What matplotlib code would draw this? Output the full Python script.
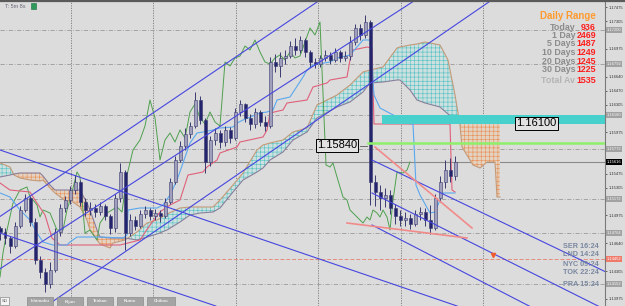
"""
Gráfico MT4 EURUSD M5 — velas + Ichimoku + canales + panel Daily Range.
"""

import numpy as np
import matplotlib
matplotlib.use("Agg")
import matplotlib.pyplot as plt
from matplotlib.patches import Rectangle
from matplotlib.lines import Line2D

plt.rcParams['font.family'] = ['Liberation Sans', 'DejaVu Sans']
plt.rcParams['hatch.linewidth'] = 0.45

# ─── Velas (cada vela = 1 unidad de tiempo) ──────────────────────────────────
open_first = 1.14824
close = [1.14776, 1.14704, 1.14608, 1.14848, 1.15040, 1.15184, 1.14896, 1.14440, 1.14296, 1.14152,
         1.14320, 1.14776, 1.15064, 1.15160, 1.15280, 1.15376, 1.15136, 1.15040, 1.15064, 1.15016,
         1.15088, 1.14968, 1.14824, 1.15184, 1.15496, 1.14764, 1.14920, 1.14848, 1.14992, 1.15040,
         1.14968, 1.15004, 1.14968, 1.15136, 1.15376, 1.15640, 1.15808, 1.15952, 1.16048, 1.16360,
         1.16120, 1.15616, 1.15880, 1.15964, 1.15856, 1.16000, 1.15904, 1.16216, 1.16312, 1.16144,
         1.16072, 1.16216, 1.16096, 1.16048, 1.16816, 1.16768, 1.16864, 1.16888, 1.17008, 1.16960,
         1.17080, 1.16936, 1.16816, 1.16792, 1.16864, 1.16900, 1.16840, 1.16936, 1.16864, 1.16888,
         1.17056, 1.17224, 1.17140, 1.17296, 1.15376, 1.15256, 1.15184, 1.15220, 1.15064, 1.14968,
         1.14920, 1.14944, 1.14872, 1.14992, 1.15016, 1.14920, 1.14824, 1.15184, 1.15376, 1.15520,
         1.15448, 1.15616]
high = [1.14848, 1.14824, 1.14728, 1.14896, 1.15088, 1.15232, 1.15208, 1.14944, 1.14488, 1.14344,
        1.14416, 1.14824, 1.15112, 1.15208, 1.15328, 1.15460, 1.15400, 1.15184, 1.15136, 1.15112,
        1.15136, 1.15112, 1.14992, 1.15232, 1.15604, 1.15520, 1.14992, 1.14968, 1.15040, 1.15088,
        1.15064, 1.15052, 1.15040, 1.15184, 1.15424, 1.15688, 1.15868, 1.16024, 1.16096, 1.16456,
        1.16408, 1.16144, 1.15928, 1.16024, 1.16000, 1.16048, 1.16036, 1.16264, 1.16360, 1.16324,
        1.16192, 1.16264, 1.16240, 1.16168, 1.16876, 1.16912, 1.16936, 1.16960, 1.17068, 1.17104,
        1.17128, 1.17104, 1.16960, 1.16864, 1.16900, 1.16960, 1.16936, 1.16984, 1.16960, 1.16948,
        1.17128, 1.17272, 1.17272, 1.17380, 1.17320, 1.15460, 1.15340, 1.15304, 1.15280, 1.15112,
        1.15040, 1.15016, 1.14992, 1.15040, 1.15076, 1.15064, 1.15100, 1.15232, 1.15448, 1.15640,
        1.15664, 1.15688]
low = [1.14680, 1.14632, 1.14524, 1.14584, 1.14824, 1.15016, 1.14848, 1.14392, 1.14224, 1.14056,
       1.14104, 1.14296, 1.14728, 1.15016, 1.15112, 1.15232, 1.15088, 1.14968, 1.14980, 1.14956,
       1.14980, 1.14920, 1.14752, 1.14776, 1.15136, 1.14560, 1.14728, 1.14800, 1.14824, 1.14944,
       1.14920, 1.14920, 1.14896, 1.14944, 1.15112, 1.15352, 1.15616, 1.15760, 1.15904, 1.16024,
       1.16072, 1.15484, 1.15568, 1.15820, 1.15784, 1.15808, 1.15844, 1.15880, 1.16168, 1.16096,
       1.16000, 1.16024, 1.16048, 1.15988, 1.16024, 1.16696, 1.16636, 1.16792, 1.16864, 1.16900,
       1.16924, 1.16876, 1.16756, 1.16744, 1.16756, 1.16828, 1.16792, 1.16816, 1.16816, 1.16828,
       1.16840, 1.17020, 1.17080, 1.17104, 1.15100, 1.15088, 1.15040, 1.15076, 1.14992, 1.14872,
       1.14848, 1.14848, 1.14812, 1.14848, 1.14920, 1.14848, 1.14752, 1.14800, 1.15136, 1.15304,
       1.15376, 1.15400]

# ─── Ichimoku ────────────────────────────────────────────────────────────────
tenkan_t = [0, 2, 4, 6, 7.4, 8.6, 10.6, 13.4, 14, 15.4, 20, 24.6, 25.4, 25.6, 28, 31.4, 32.6, 34,
            35.4, 36.6, 38, 39.4, 40.6, 42.6, 44, 46.6, 47.4, 48.6, 52, 53.4, 54.6, 55.4, 58, 60.6,
            61.4, 62.6, 66, 67.4, 70, 71.4, 72.6, 74, 74.8, 76, 79.4, 80.6, 82.6, 83.2, 84, 86, 87,
            88, 88.6, 91]
tenkan_p = [1.15244, 1.15196, 1.15040, 1.14920, 1.14764, 1.14656, 1.14620, 1.14620, 1.14656, 1.14716,
            1.14716, 1.14704, 1.14740, 1.15040, 1.15064, 1.15064, 1.15100, 1.15220, 1.15400, 1.15604,
            1.15844, 1.15964, 1.15976, 1.16000, 1.16024, 1.16036, 1.16084, 1.16120, 1.16204, 1.16216,
            1.16240, 1.16360, 1.16396, 1.16636, 1.16720, 1.16780, 1.16816, 1.16864, 1.16900, 1.16996,
            1.17080, 1.17080, 1.16420, 1.16264, 1.16156, 1.16084, 1.16072, 1.15340, 1.15220, 1.15004,
            1.15016, 1.15160, 1.15244, 1.15244]

kijun_t = [0, 2, 6, 7, 9, 10.4, 12, 24, 28, 30, 32, 34, 36, 37.6, 40.6, 41.4, 43.4, 44, 47.4, 48,
           52.6, 53.4, 54, 56.6, 57.4, 61.4, 62.6, 65.4, 66, 69.4, 70, 70.6, 73.4, 74.4, 74.8, 90,
           90.4, 91]
kijun_p = [1.15364, 1.15280, 1.15256, 1.15160, 1.14980, 1.14704, 1.14620, 1.14620, 1.14680, 1.14860,
           1.15016, 1.15100, 1.15160, 1.15460, 1.15496, 1.15556, 1.15640, 1.15724, 1.15796, 1.15856,
           1.15916, 1.16000, 1.16204, 1.16240, 1.16324, 1.16360, 1.16516, 1.16564, 1.16600, 1.16636,
           1.16840, 1.16960, 1.16996, 1.16984, 1.16072, 1.16072, 1.15280, 1.15256]

chikou_t = [0, 0.6, 1.4, 2.6, 4, 5.4, 6, 6.6, 7.4, 8, 8.6, 10, 11.4, 12.6, 13.4, 14, 15.4, 16, 17, 18,
            19.4, 20, 21.4, 23.4, 24.4, 25.4, 26.6, 28, 29, 30, 31, 32, 33, 34, 35, 36, 37, 38, 39, 40,
            41, 42, 43, 44, 45, 46, 47, 48, 49, 50, 51, 52, 53, 54, 55, 56, 57, 58, 59, 60,
            61, 62, 63, 64, 65.2, 66, 66.6, 67.4, 68, 68.6, 69.4, 70, 71.4, 72.6, 73.4, 74, 74.6, 75.4,
            76, 76.6, 77.4, 78, 78.6, 79.4, 80.6, 81.4, 82]
chikou_p = [1.14236, 1.14524, 1.14800, 1.15124, 1.15280, 1.15316, 1.15196, 1.15160, 1.15100, 1.14956,
            1.15040, 1.15004, 1.14800, 1.14800, 1.15040, 1.15160, 1.15496, 1.15436, 1.14764, 1.14800,
            1.14680, 1.14884, 1.15004, 1.15076, 1.15016, 1.15460, 1.15760, 1.15880, 1.16048, 1.16360,
            1.16144, 1.15640, 1.15880, 1.15964, 1.15856, 1.16000, 1.15904, 1.16216, 1.16312, 1.16144,
            1.16072, 1.16216, 1.16096, 1.16048, 1.16816, 1.16768, 1.16864, 1.16888, 1.17008, 1.16960,
            1.17080, 1.16936, 1.16816, 1.16792, 1.16864, 1.16900, 1.16840, 1.16936, 1.16864, 1.16888,
            1.17056, 1.17224, 1.17140, 1.17296, 1.15580, 1.15556, 1.15604, 1.15436, 1.15316, 1.15196,
            1.15160, 1.15040, 1.14956, 1.14884, 1.14956, 1.14920, 1.15040, 1.15004, 1.14956, 1.15040,
            1.14956, 1.14800, 1.15160, 1.15496, 1.15484, 1.15520, 1.15616]

kumo_t = [0, 2, 2.8, 4, 6, 8, 8.6, 10, 11, 13.4, 14, 16, 17.4, 18, 19.4, 20, 22, 22.6, 25, 27.4,
          29.4, 31.4, 33.4, 36, 38, 40, 42.6, 44, 46.6, 48.6, 51.4, 52.6, 54, 56.6, 58.6, 61.4, 63.4,
          67.4, 70, 72.6, 74, 76.6, 79.4, 80, 82, 83.4, 85, 88, 89.6, 90.4, 91, 92, 92.4, 94.6, 96,
          97.4, 99, 99.4, 100]
span_a = [1.15604, 1.15556, 1.15460, 1.15424, 1.15400, 1.15388, 1.15400, 1.15304, 1.15244, 1.15136,
          1.15160, 1.15076, 1.14920, 1.14800, 1.14680, 1.14632, 1.14584, 1.14644, 1.14680, 1.14776,
          1.14884, 1.14920, 1.14992, 1.15064, 1.15076, 1.15076, 1.15076, 1.15160, 1.15340, 1.15484,
          1.15760, 1.15820, 1.15844, 1.15880, 1.15976, 1.16024, 1.16300, 1.16420, 1.16540, 1.16696,
          1.16720, 1.16756, 1.16984, 1.16996, 1.17020, 1.17032, 1.17056, 1.17020, 1.16840, 1.16600,
          1.16420, 1.16060, 1.15796, 1.15580, 1.15544, 1.15616, 1.15616, 1.15196, 1.15196]
span_b = [1.15436, 1.15460, 1.15472, 1.15484, 1.15484, 1.15484, 1.15448, 1.15340, 1.15280, 1.15280,
          1.15280, 1.15280, 1.15124, 1.15040, 1.14800, 1.14716, 1.14704, 1.14704, 1.14704, 1.14680,
          1.14716, 1.14752, 1.14800, 1.14896, 1.14980, 1.15004, 1.15016, 1.15064, 1.15256, 1.15400,
          1.15496, 1.15544, 1.15640, 1.15736, 1.15880, 1.15976, 1.16144, 1.16276, 1.16336, 1.16456,
          1.16564, 1.16576, 1.16600, 1.16600, 1.16480, 1.16360, 1.16324, 1.16276, 1.16192, 1.16156,
          1.16132, 1.16084, 1.16084, 1.16084, 1.16084, 1.16084, 1.16084, 1.16084, 1.16084]

# ─── Líneas dibujadas a mano (anclas tiempo, precio) ─────────────────────────
up_channel = [((30, 1.16180), (64, 1.17560)),
              ((46, 1.16120), (80, 1.17440)),
              ((63.4, 1.16120), (80, 1.16804))]
down_left = [((0, 1.15760), (58.6, 1.14560)),
             ((0, 1.14764), (26.6, 1.14224))]
down_right = [((74.4, 1.15640), (112, 1.14560)),
              ((74.4, 1.15244), (112, 1.14116)),
              ((74.4, 1.14860), (100, 1.14068))]
pink_lines = [((75, 1.15796), (94.4, 1.14824)),
              ((69.4, 1.14884), (93.4, 1.14704))]

# ─── Niveles ─────────────────────────────────────────────────────────────────
grid_levels = [1.17200, 1.16792, 1.16180, 1.15772, 1.15172, 1.14764, 1.14152]
red_level = 1.14452
bid = 1.15616
green_level = 1.15840
green_start = 73.6
zone_lo, zone_hi, zone_start = 1.16072, 1.16180, 76.4
zone_label = 1.16100
separators = [14.2, 30.6, 47.2, 63.6, 80.2, 96.6]
price_ticks = [1.17475, 1.17305, 1.17140, 1.16975, 1.16805, 1.16640, 1.16470, 1.16305, 1.16140,
               1.15975, 1.15805, 1.15640, 1.15475, 1.15305, 1.15140, 1.14975, 1.14805, 1.14640,
               1.14470, 1.14305, 1.14140, 1.13975]

# ─── Paneles de texto ────────────────────────────────────────────────────────
range_labels = ['Today', '1 Day', '5 Days', '10 Days', '20 Days', '30 Days', 'Total Av']
range_values = [936, 2469, 1487, 1249, 1245, 1225, 1535]
sessions = ['SER 16:24', 'LND 14:24', 'NYC 09:24', 'TOK 22:24', 'PRA 15:24']
tabs = ['Ichimoku', 'Kijun', 'Tenkan', 'Kumo', 'Chikou']

W, H = 625, 306
BG = '#dcdcdc'
XMAX = 121
AXFS = 3.0


def fx(px):
    return px / W


def fy(py):
    return 1 - py / H


def ray(p1, p2, x_end=XMAX + 2):
    (x1, y1), (x2, y2) = p1, p2
    k = (y2 - y1) / (x2 - x1)
    return [x1, x_end], [y1, y1 + k * (x_end - x1)]


fig = plt.figure(figsize=(W / 100, H / 100), dpi=100)
fig.patch.set_facecolor(BG)
ax = fig.add_axes([0, 0, fx(605), 1 - 2 / H])
ax.set_facecolor(BG)
ax.set_xlim(0, XMAX)
ax.set_ylim(1.13888, 1.17536)

# rejilla / niveles
for s in separators:
    ax.axvline(s, color='#777777', lw=0.6, ls=(0, (1.5, 1.5)), zorder=1)
for lv in grid_levels:
    ax.axhline(lv, color='#9a9a9a', lw=0.6, ls=(0, (5, 2, 1, 2)), zorder=1)
ax.axhline(red_level, color='#e58a7a', lw=0.7, ls=(0, (4, 2)), zorder=1)
ax.axhline(bid, color='#8a8a8a', lw=0.8, zorder=1)

# kumo
t_k = np.array(kumo_t)
a = np.array(span_a)
b = np.array(span_b)
ax.fill_between(t_k, a, b, where=a >= b, interpolate=True, facecolor='#cfe0e0',
                edgecolor='#5cc4c4', hatch='++++', lw=0, zorder=2)
ax.fill_between(t_k, a, b, where=a < b, interpolate=True, facecolor='#e4d2c2',
                edgecolor='#e8945a', hatch='++++', lw=0, zorder=2)
ax.plot(t_k, a, color='#c49a78', lw=0.8, zorder=3)
ax.plot(t_k, b, color='#8a7f9c', lw=0.8, zorder=3)

ax.plot(chikou_t, chikou_p, color='#4ea04e', lw=0.7, zorder=3)
ax.plot(kijun_t, kijun_p, color='#e0607a', lw=0.8, zorder=3)
ax.plot(tenkan_t, tenkan_p, color='#5aa8ee', lw=0.8, zorder=3)

# velas
opens = [open_first] + close[:-1]
for i, (o, c, h, l) in enumerate(zip(opens, close, high, low)):
    bull = c >= o
    ax.vlines(i, l, h, color='#3a3a70', lw=0.7, zorder=4)
    ax.add_patch(Rectangle((i - 0.3, min(o, c)), 0.6, max(abs(c - o), 0.00003),
                           facecolor='#a0a0bc' if bull else '#24246e',
                           edgecolor='#3a3a70', lw=0.4, zorder=4))

# zona cian y nivel verde
ax.add_patch(Rectangle((zone_start, zone_lo), XMAX - zone_start, zone_hi - zone_lo,
                       facecolor='#48d0cc', edgecolor='none', zorder=4.5))
ax.plot([green_start, XMAX], [green_level] * 2, color='#8ef06a', lw=1.8, zorder=4.5)

# líneas de tendencia
for p1, p2 in up_channel + down_left:
    ax.axline(p1, p2, color='#4646e0', lw=0.8, zorder=5)
for p1, p2 in down_right:
    xs, ys = ray(p1, p2)
    ax.plot(xs, ys, color='#4646e0', lw=0.8, zorder=5)
for p1, p2 in pink_lines:
    ax.plot([p1[0], p2[0]], [p1[1], p2[1]], color='#f28a8a', lw=1.2, zorder=5)

ax.plot(98.6, 1.14500, marker='v', ms=3, color='#f05a30', zorder=6)

# etiquetas de precio en el gráfico
ax.text(103.2, 1.16078, f'{zone_label:.5f}', fontsize=8, color='black', va='center', ha='left',
        zorder=7, bbox=dict(boxstyle='square,pad=0.12', fc='#e2e2e2', ec='black', lw=0.7))
ax.text(63.4, 1.15814, f'{green_level:.5f}', fontsize=8, color='black', va='center', ha='left',
        zorder=7, bbox=dict(boxstyle='square,pad=0.12', fc='#e2e2e2', ec='black', lw=0.7))
ax.plot([72.0, 73.4], [1.15814] * 2, color='#555555', lw=0.6, zorder=7)

# eje de precios (se ocultan los ticks tapados por etiquetas resaltadas)
marked = grid_levels + [bid, red_level]
shown = [p for p in price_ticks if min(abs(p - m) for m in marked) > 0.0007]
for side in ['top', 'left', 'bottom']:
    ax.spines[side].set_visible(False)
ax.spines['right'].set_color('#7a7a7a')
ax.spines['right'].set_linewidth(0.8)
ax.set_xticks([])
ax.yaxis.tick_right()
ax.set_yticks(shown)
ax.set_yticklabels([f'{p:.5f}' for p in shown])
ax.tick_params(axis='y', labelsize=AXFS, length=1.5, width=0.5, pad=1.0,
               colors='#333333')

ytr = ax.get_yaxis_transform()
for lv in grid_levels:
    ax.text(1.003, lv, f'{lv:.5f}', transform=ytr, fontsize=AXFS, color='#f4f4f4',
            va='center', ha='left', bbox=dict(boxstyle='square,pad=0.2', fc='#a2a2a2', ec='none'))
ax.text(1.003, bid, f'{bid:.5f}', transform=ytr, fontsize=AXFS, color='white',
        va='center', ha='left', bbox=dict(boxstyle='square,pad=0.2', fc='black', ec='none'))
ax.text(1.003, red_level, f'{red_level:.5f}', transform=ytr, fontsize=AXFS, color='white',
        va='center', ha='left', bbox=dict(boxstyle='square,pad=0.2', fc='#f07a6a', ec='none'))

# panel Daily Range
fig.text(fx(596), fy(16), 'Daily Range', ha='right', va='center', color='#ff9a2e',
         fontsize=7, fontweight='bold')
row_y = [27, 35, 43, 52, 61, 70, 81]
for lab, val, yy in zip(range_labels, range_values, row_y):
    lab_col = '#b4b4b4' if lab == 'Total Av' else '#8c8c8c'
    fig.text(fx(575), fy(yy), lab, ha='right', va='center', color=lab_col, fontsize=6.4,
             fontweight='bold')
    fig.text(fx(596), fy(yy), str(val), ha='right', va='center', color='#ff1e1e',
             fontsize=6.4, fontweight='bold')

# sesiones
for s, yy in zip(sessions, [246, 255, 264, 273, 285]):
    fig.text(fx(581), fy(yy), s, ha='center', va='center', color='#7a88a0',
             fontsize=5.2, fontweight='bold')

# pestañas inferiores
tab_x = [(27, 53), (57, 83), (87, 113), (117, 143), (147, 175)]
for name, (x0, x1) in zip(tabs, tab_x):
    fig.add_artist(Rectangle((fx(x0), fy(306)), fx(x1 - x0), 9 / H, transform=fig.transFigure,
                             facecolor='#a4a4a4', edgecolor='#8a8a8a', lw=0.5))
    fig.text(fx((x0 + x1) / 2), fy(301.5), name, ha='center', va='center', color='#eeeeee',
             fontsize=3.2, fontweight='bold')
fig.add_artist(Rectangle((fx(0), fy(305)), fx(9), 8 / H, transform=fig.transFigure,
                         facecolor='#f4f4f4', edgecolor='#8a8a8a', lw=0.5))
fig.text(fx(4.5), fy(301), 'SD', ha='center', va='center', color='#555555', fontsize=3.2)

# cabecera
fig.add_artist(Line2D([0, 1], [fy(0.8)] * 2, transform=fig.transFigure, color='#5a5a5a', lw=1.6))
fig.text(fx(5), fy(6), 'T: 5m 8s', ha='left', va='center', color='#6a6a7a', fontsize=4)
fig.add_artist(Rectangle((fx(31), fy(9)), fx(5), 6 / H, transform=fig.transFigure,
                         facecolor='#2e9a5a', edgecolor='#1e6a3e', lw=0.4))

fig.savefig('out.png', dpi=100, facecolor=BG)
